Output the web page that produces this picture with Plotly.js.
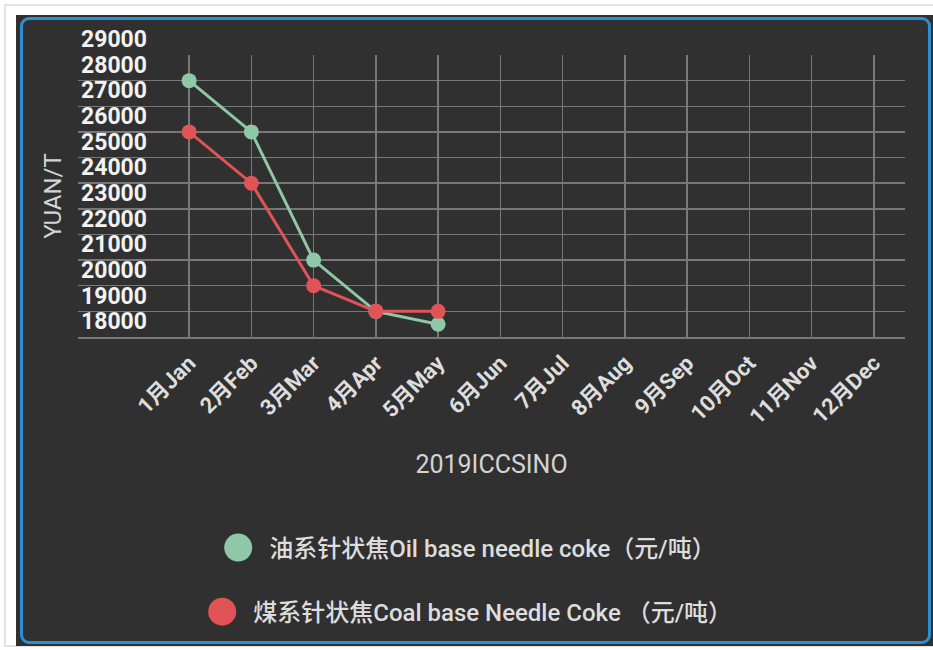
<!DOCTYPE html>
<html>
<head>
<meta charset="utf-8">
<script src="https://cdn.plot.ly/plotly-3.0.1.min.js"></script>
<style>
  html, body { margin: 0; padding: 0; background: #ffffff; width: 933px; height: 650px; overflow: hidden; }
  #frame { position: absolute; left: 4px; top: 4px; width: 960px; height: 643px; border: 2px solid #e2e2e2; box-sizing: border-box; }
  #panel { position: absolute; left: 16px; top: 15px; width: 917px; height: 631px; background: #303030; }
  #chart { position: absolute; left: 0; top: 0; width: 917px; height: 631px; }
  #border { position: absolute; left: 4px; top: 2px; width: 911px; height: 627px; box-sizing: border-box;
            border: 3px solid #2d8fd2; border-radius: 9px; pointer-events: none; }
</style>
</head>
<body>
<div id="frame"></div>
<div id="panel">
  <div id="chart"></div>
  <div id="border"></div>
</div>
<script>
// ---- data ----
var months = ["1月Jan", "2月Feb", "3月Mar", "4月Apr", "5月May", "6月Jun",
              "7月Jul", "8月Aug", "9月Sep", "10月Oct", "11月Nov", "12月Dec"];
var oilMonths = ["1月Jan", "2月Feb", "3月Mar", "4月Apr", "5月May"];
var oilPrice  = [27000, 25000, 20000, 18000, 17500];
var coalMonths = ["1月Jan", "2月Feb", "3月Mar", "4月Apr", "5月May"];
var coalPrice  = [25000, 23000, 19000, 18000, 18000];
var oilName  = "油系针状焦Oil base needle coke（元/吨）";
var coalName = "煤系针状焦Coal base Needle Coke （元/吨）";
var yTickVals = [18000, 19000, 20000, 21000, 22000, 23000, 24000, 25000, 26000, 27000, 28000, 29000];
var yTickText = ["18000", "19000", "20000", "21000", "22000", "23000", "24000", "25000", "26000", "27000", "28000", "29000"];
var yUnit = "YUAN/T";
var xTitle = "2019ICCSINO";

var FONT = "Roboto, 'Noto Sans CJK SC', sans-serif";
var GREEN = "#8ec8a6", RED = "#e05357", GRID = "#787878";

var traces = [
  { type: "scatter", mode: "lines+markers", name: oilName, x: oilMonths, y: oilPrice,
    line: { color: GREEN, width: 3 }, marker: { color: GREEN, size: 15 }, legend: "legend" },
  { type: "scatter", mode: "lines+markers", name: coalName, x: coalMonths, y: coalPrice,
    line: { color: RED, width: 3 }, marker: { color: RED, size: 15 }, legend: "legend2" },
  // empty carrier so that the label-only axis pair (x2/y2) is drawn
  { type: "scatter", mode: "markers", x: [], y: [], xaxis: "x2", yaxis: "y2",
    showlegend: false, hoverinfo: "skip" }
];

var layout = {
  width: 917, height: 631,
  paper_bgcolor: "#303030", plot_bgcolor: "rgba(0,0,0,0)",
  margin: { l: 62, r: 28, t: 14, b: 309, pad: 0, autoexpand: false },
  font: { family: FONT, color: "#dddddd" },
  showlegend: true,
  xaxis: {
    type: "category", categoryorder: "array", categoryarray: months,
    tickvals: months, range: [-1.785, 11.5], autorange: false, automargin: false,
    showgrid: true, gridcolor: GRID, gridwidth: 1.5,
    showline: true, linecolor: GRID, linewidth: 1.5,
    zeroline: false, ticks: "", tickangle: -45, ticklabelstandoff: 3,
    tickfont: { family: FONT, size: 22, color: "#dddddd", weight: "bold" },
    title: { text: xTitle, font: { family: FONT, size: 25, color: "#d4d4d4" }, standoff: 27 },
    anchor: "y", domain: [0, 1]
  },
  yaxis: {
    range: [17000, 28000], autorange: false, dtick: 1000, tick0: 17000, automargin: false,
    domain: [0, 282 / 308], anchor: "x",
    showgrid: true, gridcolor: GRID, gridwidth: 1.5, zeroline: false,
    showticklabels: false, ticks: "", showline: false,
    title: { text: yUnit, font: { family: FONT, size: 24, color: "#d4d4d4" }, standoff: 8 }
  },
  xaxis2: {
    domain: [0, 1], anchor: "y2", range: [0, 1], autorange: false, automargin: false,
    showgrid: false, zeroline: false, showline: false, showticklabels: false, ticks: ""
  },
  yaxis2: {
    domain: [0, 1], anchor: "x2", side: "left", automargin: false,
    range: [17000, 29000], autorange: false,
    tickmode: "array", tickvals: yTickVals, ticktext: yTickText,
    ticklabelposition: "inside", ticklabeloverflow: "allow", ticklabelshift: 10,
    ticklabelstandoff: 0,
    showgrid: false, zeroline: false, showline: false, ticks: "",
    tickfont: { family: FONT, size: 23, color: "#f2f2f2", weight: "bold" }
  },
  legend: {
    x: 0.467, xanchor: "center", y: -0.685, yanchor: "middle",
    bgcolor: "rgba(0,0,0,0)", font: { family: FONT, size: 24, color: "#dddddd", weight: 500 },
    itemwidth: 52
  },
  legend2: {
    x: 0.467, xanchor: "center", y: -0.893, yanchor: "middle",
    bgcolor: "rgba(0,0,0,0)", font: { family: FONT, size: 24, color: "#dddddd", weight: 500 },
    itemwidth: 52
  }
};

Plotly.newPlot("chart", traces, layout, { displayModeBar: false, staticPlot: true }).then(function (gd) {
  // legend symbols: big filled circles only (no line stroke)
  var r = 14;
  gd.querySelectorAll(".legendlines").forEach(function (g) { g.style.display = "none"; });
  gd.querySelectorAll(".legendpoints path.scatterpts").forEach(function (p) {
    p.setAttribute("d", "M" + r + ",0A" + r + "," + r + " 0 1,1 0,-" + r + "A" + r + "," + r + " 0 0,1 " + r + ",0Z");
  });
});
</script>
</body>
</html>
